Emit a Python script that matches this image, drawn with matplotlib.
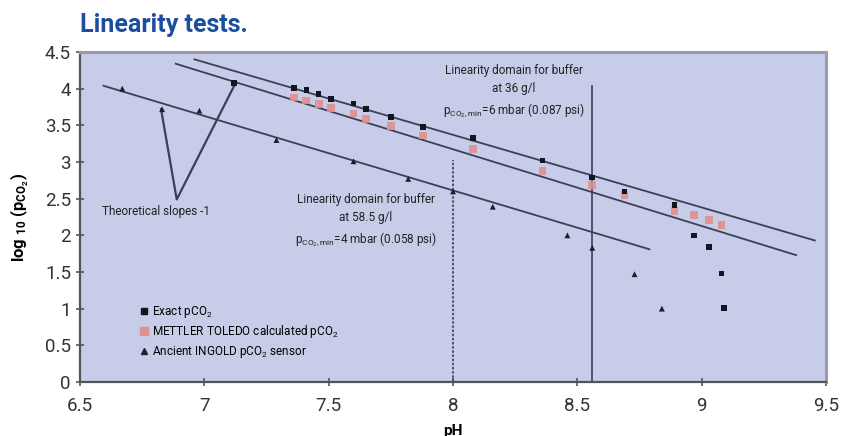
import matplotlib
matplotlib.use("Agg")
import matplotlib.pyplot as plt
from matplotlib.lines import Line2D

plt.rcParams['font.family'] = ['Liberation Sans Narrow', 'Roboto', 'DejaVu Sans']
plt.rcParams['mathtext.default'] = 'regular'

# exact pCO2 (log10)
exact_ph = [7.12, 7.36, 7.41, 7.46, 7.51, 7.60, 7.65, 7.75, 7.88, 8.08, 8.36, 8.56, 8.69, 8.89,
            8.97, 9.03, 9.08, 9.09]
exact_log = [4.08, 4.01, 3.98, 3.93, 3.86, 3.80, 3.72, 3.61, 3.48, 3.33, 3.02, 2.79, 2.60, 2.41,
             2.00, 1.84, 1.48, 1.01]

# METTLER TOLEDO calculated pCO2
mt_ph = [7.36, 7.41, 7.46, 7.51, 7.60, 7.65, 7.75, 7.88, 8.08, 8.36, 8.56, 8.69, 8.89, 8.97, 9.03, 9.08]
mt_log = [3.88, 3.84, 3.79, 3.74, 3.66, 3.59, 3.49, 3.36, 3.18, 2.88, 2.69, 2.55, 2.33, 2.28, 2.21, 2.14]

# ancient INGOLD sensor
ing_ph = [6.67, 6.83, 6.98, 7.29, 7.60, 7.82, 8.00, 8.16, 8.46, 8.56, 8.73, 8.84]
ing_log = [4.00, 3.72, 3.70, 3.30, 3.01, 2.77, 2.60, 2.39, 2.00, 1.83, 1.47, 1.00]

# theoretical slope -1 lines (start, end)
slope_x = [(6.96, 9.455), (6.885, 9.38), (6.594, 8.79)]
slope_y = [(4.40, 1.93), (4.34, 1.73), (4.04, 1.81)]

# pointer to the slopes
vee_x = [6.826, 6.889, 7.126]
vee_y = [3.72, 2.49, 4.08]

xticks = [6.5, 7, 7.5, 8, 8.5, 9, 9.5]
yticks = [0, 0.5, 1, 1.5, 2, 2.5, 3, 3.5, 4, 4.5]

fig = plt.figure(figsize=(8.43, 4.36), dpi=100)
ax = fig.add_axes([80/843, 1-382/436, 746/843, 330/436])
ax.set_facecolor('#c7cde8')

line_col = '#3b4058'
for xs, ys in zip(slope_x, slope_y):
    ax.plot(xs, ys, color=line_col, lw=1.3, zorder=2)
ax.plot(vee_x, vee_y, color=line_col, lw=1.6, zorder=2)

ax.plot([8.0, 8.0], [0, 3.03], color=line_col, lw=1.2, ls=(0, (1.5, 1.0)), zorder=2)
ax.plot([8.557, 8.557], [0, 4.03], color=line_col, lw=1.2, zorder=2)

ax.scatter(mt_ph, mt_log, marker='s', s=30, color='#e09090', edgecolors='none', alpha=0.9, zorder=3)
ax.scatter(exact_ph, exact_log, marker='s', s=16, color='#15151f', edgecolors='none', zorder=4)
ax.scatter(ing_ph, ing_log, marker='^', s=18, color='#1c2033', edgecolors='none', zorder=4)

ax.set_xlim(6.5, 9.5)
ax.set_ylim(0, 4.5)
ax.set_xticks(xticks)
ax.set_xticklabels([f'{t:g}' for t in xticks])
ax.set_yticks(yticks)
ax.set_yticklabels([f'{t:g}' for t in yticks])
ax.tick_params(labelsize=13.5, labelcolor='#333333', color='#555555', direction='inout', length=6, width=1.2)
ax.tick_params(axis='x', pad=8)

for side in ['left', 'bottom']:
    ax.spines[side].set_color('#555555')
    ax.spines[side].set_linewidth(1.6)
for side in ['top', 'right']:
    ax.spines[side].set_color('#9a9da8')
    ax.spines[side].set_linewidth(2.2)

ax.set_xlabel('pH', fontsize=11, fontweight='bold', labelpad=6)
ax.set_ylabel(r'log $_{10}$ (p$_{CO_2}$)', fontsize=12, fontweight='bold', labelpad=10)

fig.text(80/843, 1-25/436, 'Linearity tests.', fontsize=18, fontweight='bold', color='#1b4f9e',
         va='center', ha='left')

ax.text(6.59, 2.33, 'Theoretical slopes -1', fontsize=8.5, color='#222222', va='center', ha='left')
ax.text(7.65, 2.2, 'Linearity domain for buffer\nat 58.5 g/l\n'
        r'p$_{CO_2,min}$=4 mbar (0.058 psi)', fontsize=8.5, color='#222222',
        ha='center', va='center', linespacing=1.5)
ax.text(8.245, 3.96, 'Linearity domain for buffer\nat 36 g/l\n'
        r'p$_{CO_2,min}$=6 mbar (0.087 psi)', fontsize=8.5, color='#222222',
        ha='center', va='center', linespacing=1.5)

handles = [
    Line2D([], [], ls='none', marker='s', ms=4.5, color='#15151f'),
    Line2D([], [], ls='none', marker='s', ms=6, color='#e09090'),
    Line2D([], [], ls='none', marker='^', ms=4.5, color='#1c2033'),
]
labels = [r'Exact pCO$_2$', r'METTLER TOLEDO calculated pCO$_2$', r'Ancient INGOLD pCO$_2$ sensor']
ax.legend(handles, labels, loc='upper left', bbox_to_anchor=(0.073, 0.255), frameon=False,
          fontsize=8.5, handlelength=0.6, handletextpad=0.4, labelspacing=0.3, borderpad=0)

fig.savefig('out.png', dpi=100)
